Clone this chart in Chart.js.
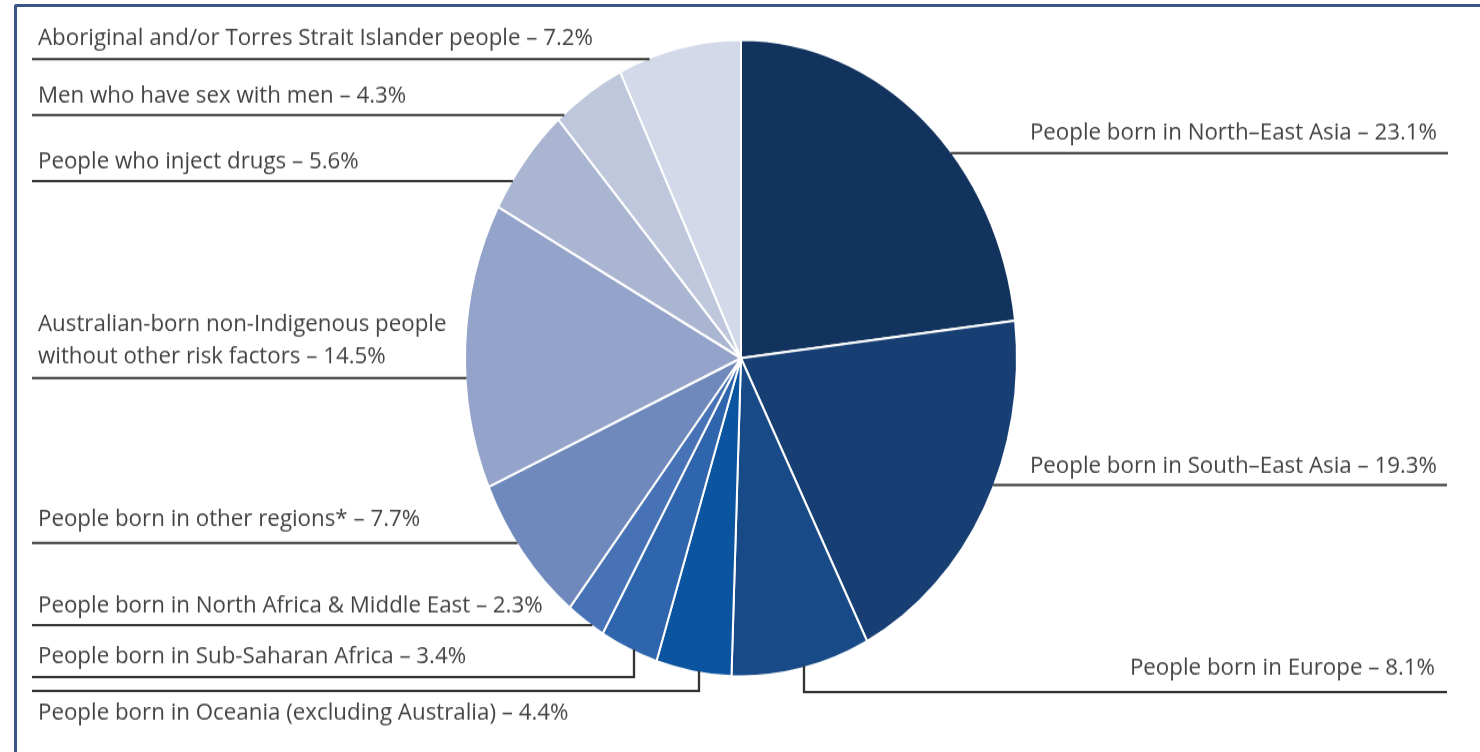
<!DOCTYPE html>
<html>
<head>
<meta charset="utf-8">
<script src="https://cdn.jsdelivr.net/npm/chart.js@4.4.1/dist/chart.umd.min.js"></script>
<style>
html, body { margin: 0; padding: 0; background: #ffffff; width: 1480px; height: 752px; overflow: hidden; }
#wrap { position: absolute; left: 0; top: 0; width: 1480px; height: 652px; transform-origin: 0 0; transform: scaleY(1.1533742); }
#frame { position: absolute; left: 14px; top: 4px; width: 1500px; height: 800px; border-top: 3px solid #3b5685; border-left: 3px solid #3b5685; border-top-left-radius: 3px; pointer-events: none; }
</style>
</head>
<body>
<div id="wrap"><canvas id="c" width="1480" height="652"></canvas></div>
<div id="frame"></div>
<script>
// ---- data ----
const categories = [
  'People born in North\u2013East Asia',
  'People born in South\u2013East Asia',
  'People born in Europe',
  'People born in Oceania (excluding Australia)',
  'People born in Sub-Saharan Africa',
  'People born in North Africa & Middle East',
  'People born in other regions*',
  'Australian-born non-Indigenous people\nwithout other risk factors',
  'People who inject drugs',
  'Men who have sex with men',
  'Aboriginal and/or Torres Strait Islander people'
];
const values = [23.1, 19.3, 8.1, 4.4, 3.4, 2.3, 7.7, 14.5, 5.6, 4.3, 7.2];
const sliceColors = [
  '#13335f', '#183f74', '#184a88', '#0b55a0', '#2f65ad', '#4773b6',
  '#6f89bc', '#94a3c9', '#aab5d2', '#bfc7dd', '#d3d9e9'
];

// ---- label layout (image coordinates) ----
const S = 752 / 652; // vertical stretch of the pie
const labelLayout = [
  { side: 'right', lineY: 153, baselines: [140], textX: 1437, lineEnd: 1448 },
  { side: 'right', lineY: 485, baselines: [473], textX: 1437, lineEnd: 1447 },
  { side: 'right', lineY: 692, baselines: [675], textX: 1435, lineEnd: 1447, elbowX: 804 },
  { side: 'left',  lineY: 691, baselines: [720], textX: 38, lineStart: 32, elbowX: 699 },
  { side: 'left',  lineY: 677, baselines: [663], textX: 38, lineStart: 32, elbowX: 634 },
  { side: 'left',  lineY: 625, baselines: [613], textX: 38, lineStart: 32 },
  { side: 'left',  lineY: 543, baselines: [526], textX: 38, lineStart: 32 },
  { side: 'left',  lineY: 378, baselines: [331, 363], textX: 38, lineStart: 32 },
  { side: 'left',  lineY: 181, baselines: [168], textX: 38, lineStart: 32 },
  { side: 'left',  lineY: 115, baselines: [103], textX: 38, lineStart: 32 },
  { side: 'left',  lineY: 59,  baselines: [45],  textX: 38, lineStart: 32 }
];

function labelLines(i) {
  const parts = categories[i].split('\n');
  parts[parts.length - 1] += ' \u2013 ' + values[i].toFixed(1) + '%';
  return parts;
}

const labelPlugin = {
  id: 'leaderLabels',
  afterDraw(chart) {
    const ctx = chart.ctx;
    const arc = chart.getDatasetMeta(0).data[0];
    const cx = arc.x, cy = arc.y * S;
    const rx = arc.outerRadius - 1, ry = (arc.outerRadius - 1) * S;
    const xAt = (y, sign) => {
      const t = Math.max(0, 1 - Math.pow((y - cy) / ry, 2));
      return cx + sign * rx * Math.sqrt(t);
    };
    const yAt = (x) => {
      const t = Math.max(0, 1 - Math.pow((x - cx) / rx, 2));
      return cy + ry * Math.sqrt(t);
    };
    ctx.save();
    ctx.scale(1, 1 / S);
    ctx.font = '24px "Open Sans"';
    const kx = 555 / ctx.measureText(labelLines(10)[0]).width;
    ctx.strokeStyle = '#333333';
    ctx.lineWidth = 2.3;
    ctx.fillStyle = '#434343';
    ctx.textBaseline = 'alphabetic';
    labelLayout.forEach((L, i) => {
      ctx.beginPath();
      if (L.side === 'left') {
        if (L.elbowX !== undefined) {
          ctx.moveTo(L.lineStart, L.lineY);
          ctx.lineTo(L.elbowX, L.lineY);
          ctx.lineTo(L.elbowX, yAt(L.elbowX) - 1);
        } else {
          ctx.moveTo(L.lineStart, L.lineY);
          ctx.lineTo(xAt(L.lineY, -1), L.lineY);
        }
      } else {
        if (L.elbowX !== undefined) {
          ctx.moveTo(L.elbowX, yAt(L.elbowX) - 1);
          ctx.lineTo(L.elbowX, L.lineY);
          ctx.lineTo(L.lineEnd, L.lineY);
        } else {
          ctx.moveTo(xAt(L.lineY, 1), L.lineY);
          ctx.lineTo(L.lineEnd, L.lineY);
        }
      }
      ctx.stroke();
      const lines = labelLines(i);
      lines.forEach((txt, j) => {
        ctx.save();
        ctx.translate(L.textX, L.baselines[j]);
        ctx.scale(kx, 1);
        ctx.textAlign = L.side === 'left' ? 'left' : 'right';
        ctx.fillText(txt, 0, 0);
        ctx.restore();
      });
    });
    ctx.restore();
  }
};

new Chart(document.getElementById('c').getContext('2d'), {
  type: 'pie',
  data: {
    labels: categories,
    datasets: [{
      data: values,
      backgroundColor: sliceColors,
      borderColor: '#ffffff',
      borderWidth: 2,
      hoverOffset: 0,
      offset: 0
    }]
  },
  options: {
    responsive: false,
    animation: false,
    radius: 276,
    events: [],
    layout: { padding: { left: 2, right: 0, top: 0, bottom: 31 } },
    plugins: { legend: { display: false }, tooltip: { enabled: false } }
  },
  plugins: [labelPlugin]
});
</script>
</body>
</html>
